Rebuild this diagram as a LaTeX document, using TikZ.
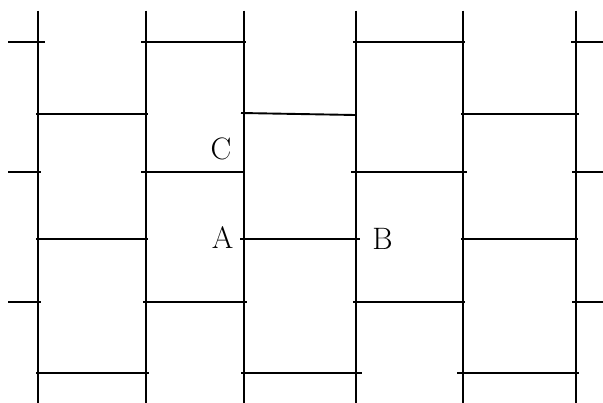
\documentclass[tikz,border=0pt]{standalone}
\begin{document}
\begin{tikzpicture}[x=1pt,y=-1pt,
  vline/.style={line width=2.2pt},
  hline/.style={line width=1.9pt},
  lbl/.style={inner sep=0pt,font=\fontsize{31}{31}\selectfont}]
\useasboundingbox (0,0) rectangle (603,403);
% vertical lines
\foreach \x in {38,146,244,356,463,576}
  \draw[vline] (\x,10.7) -- (\x,403);
% row y=42
\draw[hline] (8,42) -- (45,42);
\draw[hline] (141,42) -- (246,42);
\draw[hline] (353,42) -- (465,42);
\draw[hline] (571,42) -- (603,42);
% row y=114
\draw[hline] (36,114) -- (148,114);
\draw[hline] (241,113) -- (355,115);
\draw[hline] (461,114) -- (579,114);
% row y=172
\draw[hline] (8,172) -- (41,172);
\draw[hline] (141,172) -- (244,172);
\draw[hline] (351,172) -- (467,172);
\draw[hline] (572,172) -- (603,172);
% row y=239
\draw[hline] (36,239) -- (148,239);
\draw[hline] (240,239) -- (360,239);
\draw[hline] (461,239) -- (578,239);
% row y=302
\draw[hline] (8,302) -- (41,302);
\draw[hline] (143,302) -- (247,302);
\draw[hline] (353,302) -- (465,302);
\draw[hline] (572,302) -- (603,302);
% row y=373
\draw[hline] (36,373) -- (149,373);
\draw[hline] (241,373) -- (362,373);
\draw[hline] (457,373) -- (579,373);
% labels
\node[lbl] (C) at (221,148.5) {C};
\node[lbl] (A) at (222.5,238) {A};
\node[lbl] (B) at (382.5,239) {B};
\end{tikzpicture}
\end{document}
